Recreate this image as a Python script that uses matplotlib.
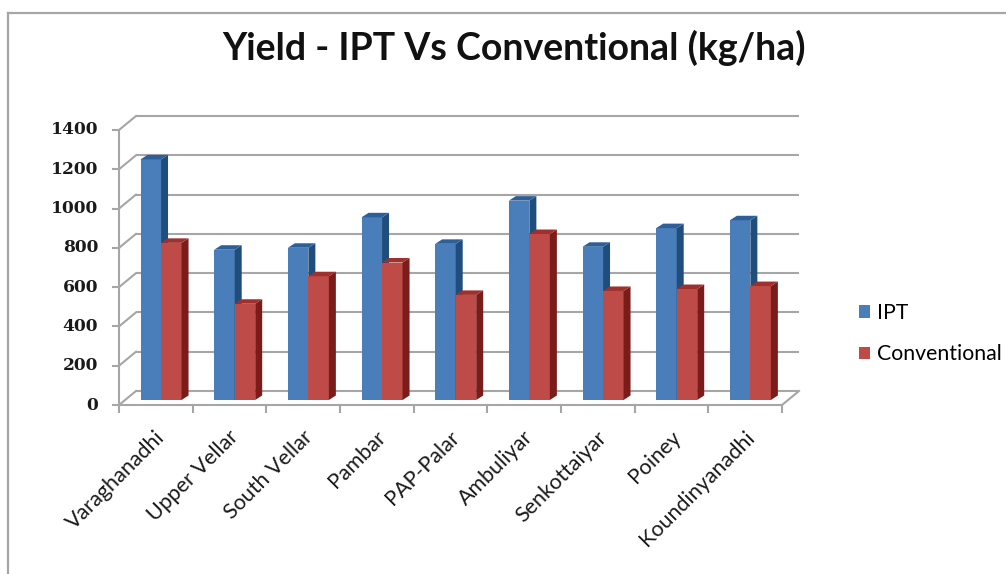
import matplotlib
matplotlib.use("Agg")
import matplotlib.pyplot as plt
from matplotlib.patches import Polygon
from matplotlib.lines import Line2D

categories = ["Varaghanadhi", "Upper Vellar", "South Vellar", "Pambar", "PAP-Palar",
              "Ambuliyar", "Senkottaiyar", "Poiney", "Koundinyanadhi"]
ipt = [1225, 765, 775, 930, 795, 1015, 780, 875, 915]
conventional = [800, 490, 630, 700, 535, 845, 555, 565, 580]
series_names = ["IPT", "Conventional"]
y_ticks = [0, 200, 400, 600, 800, 1000, 1200, 1400]

W, H = 1006, 574
fig = plt.figure(figsize=(W / 100, H / 100), dpi=100)
fig.patch.set_facecolor("white")

# axes in pixel layout (front plane)
L, R, T, B = 119, 782, 130, 405
ax = fig.add_axes([L / W, (H - B) / H, (R - L) / W, (B - T) / H])
ax.set_xlim(0, len(categories))
ax.set_ylim(0, 1400)
ax.axis("off")

pxx = len(categories) / (R - L)   # data per pixel in x
pxy = 1400 / (B - T)              # data per pixel in y

grid_c = "#a6a6a6"
# back wall offset
DX, DY = 17 * pxx, 14 * pxy
for v in y_ticks:
    ax.plot([DX, len(categories) + DX], [v + DY, v + DY], color=grid_c, lw=1.5,
            clip_on=False, solid_capstyle="butt", zorder=1)
    ax.plot([0, DX], [v, v + DY], color=grid_c, lw=1.5, clip_on=False, zorder=1)
    ax.plot([-6 * pxx, 0], [v, v], color=grid_c, lw=1.5, clip_on=False, zorder=1)
    ax.text(-21 * pxx, v, str(v), ha="right", va="center", fontsize=12.3,
            fontweight="bold", family="DejaVu Serif", color="#1a1a1a")
# left axis
ax.plot([0, 0], [0, 1400], color=grid_c, lw=1.5, clip_on=False, zorder=1)
# floor front line and right diagonal
ax.plot([0, len(categories)], [0, 0], color=grid_c, lw=1.5, clip_on=False, zorder=1)
ax.plot([len(categories), len(categories) + DX], [0, DY], color=grid_c, lw=1.5,
        clip_on=False, zorder=1)
for i in range(len(categories) + 1):
    ax.plot([i, i], [0, -7 * pxy], color=grid_c, lw=1.5, clip_on=False, zorder=1)

# bars
bw = 20.5 * pxx
bx = 5.2 * pxx
by = 5 * pxy
sdx, sdy = 7 * pxx, 4.5 * pxy
cols = [("#4a7ebb", "#1f4d7c", "#2f5f98"), ("#be4b48", "#7a1c19", "#a0302d")]
handles = []
for s, vals in enumerate([ipt, conventional]):
    front, side, top = cols[s]
    xs = [i + 0.5 + bx + (s - 0.5) * bw for i in range(len(categories))]
    bars = ax.bar(xs, vals, width=bw, bottom=by, color=front, linewidth=0,
                  label=series_names[s], zorder=3 + s)
    handles.append(bars)
    for x, v in zip(xs, vals):
        xr = x + bw / 2
        xl = x - bw / 2
        yt = by + v
        ax.add_patch(Polygon([(xr, by), (xr + sdx, by + sdy), (xr + sdx, yt + sdy), (xr, yt)],
                             closed=True, facecolor=side, edgecolor="none", zorder=3 + s))
        ax.add_patch(Polygon([(xl, yt), (xr, yt), (xr + sdx, yt + sdy), (xl + sdx, yt + sdy)],
                             closed=True, facecolor=top, edgecolor="none", zorder=3 + s))

# category labels
for i, c in enumerate(categories):
    ax.text(i + 0.5 - 1 * pxx, -22 * pxy, c, rotation=45, ha="right", va="top",
            rotation_mode="anchor", fontsize=15.5, family="Lato", color="#1a1a1a")

# title
fig.text(514 / W, 1 - 60 / H, "Yield - IPT Vs Conventional (kg/ha)", ha="center",
         va="baseline", fontsize=27, fontweight="bold", family="Lato", color="#111111")

# legend
leg = fig.legend(handles=handles, labels=series_names, loc="upper left",
                 bbox_to_anchor=(859 / W, 1 - 303 / H), frameon=False,
                 prop={"family": "Lato", "size": 15.3}, handlelength=0.5,
                 handleheight=0.5, handletextpad=0.35, labelspacing=1.0,
                 borderpad=0, borderaxespad=0)

# chart border
fig.add_artist(Line2D([8 / W, 1.0], [1 - 13 / H, 1 - 13 / H], transform=fig.transFigure,
                      color="#a6a6a6", lw=1.6))
fig.add_artist(Line2D([8 / W, 8 / W], [1 - 13 / H, 0.0], transform=fig.transFigure,
                      color="#a6a6a6", lw=1.6))

fig.savefig("out.png", dpi=100, facecolor="white")
